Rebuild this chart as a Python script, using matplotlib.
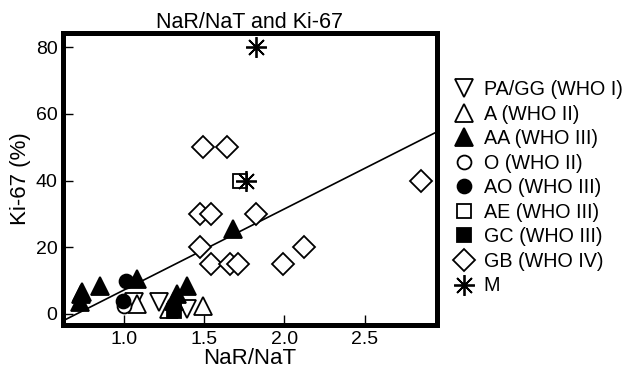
import matplotlib
matplotlib.use("Agg")
import matplotlib.pyplot as plt
import numpy as np

plt.rcParams['font.family'] = ['Liberation Sans', 'DejaVu Sans']

# data: (NaR/NaT, Ki-67 %)
pagg_x = [1.06, 1.22, 1.39]
pagg_y = [3.5, 3.5, 1.5]
a_x = [1.08, 1.28, 1.49]
a_y = [3.0, 1.5, 2.5]
aa_x = [0.725, 0.73, 0.735, 0.85, 1.08, 1.31, 1.33, 1.39, 1.68]
aa_y = [3.5, 6.0, 6.5, 8.5, 10.5, 4.0, 6.0, 8.5, 25.5]
o_x = [1.0]
o_y = [2.5]
ao_x = [1.015, 0.995]
ao_y = [10.0, 4.0]
ae_x = [1.72]
ae_y = [40.0]
gc_x = [1.31]
gc_y = [1.0]
gb_x = [1.49, 1.64, 1.475, 1.54, 1.82, 1.475, 1.54, 1.66, 1.71, 1.99, 2.125, 2.85]
gb_y = [50, 50, 30, 30, 30, 20, 15, 15, 15, 15, 20, 40]
m_x = [1.825, 1.76]
m_y = [80, 40]

# regression line
fit_slope = 24.3
fit_intercept = -17.1

fig = plt.figure(figsize=(6.33, 3.77), dpi=100)
ax = fig.add_axes([0.0995, 0.138, 0.5905, 0.774])

xl = np.array([0.619, 2.95])
ax.plot(xl, fit_slope * xl + fit_intercept, color='black', lw=1.2, zorder=1)

kw = dict(ls='none', color='black', mec='black', mew=1.3)
ax.plot(pagg_x, pagg_y, marker='v', ms=13, mfc='white', label='PA/GG (WHO I)', **kw)
ax.plot(a_x, a_y, marker='^', ms=13, mfc='white', label='A (WHO II)', **kw)
ax.plot(aa_x, aa_y, marker='^', ms=13, mfc='black', label='AA (WHO III)', **kw)
ax.plot(o_x, o_y, marker='o', ms=10, mfc='white', label='O (WHO II)', **kw)
ax.plot(ao_x, ao_y, marker='o', ms=10, mfc='black', label='AO (WHO III)', **kw)
ax.plot(ae_x, ae_y, marker='s', ms=10, mfc='white', label='AE (WHO III)', **kw)
ax.plot(gc_x, gc_y, marker='s', ms=10, mfc='black', label='GC (WHO III)', **kw)
ax.plot(gb_x, gb_y, marker='D', ms=11, mfc='white', label='GB (WHO IV)', **kw)
ax.plot(m_x, m_y, marker=(8, 2, 0), ms=15, mfc='black', label='M', **kw)

ax.set_xlim(0.619, 2.95)
ax.set_ylim(-3.3, 84.2)
ax.set_xticks([1.0, 1.5, 2.0, 2.5])
ax.set_yticks([0, 20, 40, 60, 80])
ax.tick_params(direction='in', length=7, width=1, labelsize=14, pad=4)
for s in ax.spines.values():
    s.set_linewidth(3.6)

ax.set_title('NaR/NaT and Ki-67', fontsize=15.5, pad=3)
ax.set_xlabel('NaR/NaT', fontsize=16, labelpad=0)
ax.set_ylabel('Ki-67 (%)', fontsize=16, labelpad=3)

ax.legend(loc='center left', bbox_to_anchor=(1.025, 0.47), frameon=False,
          fontsize=14.2, labelspacing=0.28, handlelength=1.0, handletextpad=0.5,
          borderaxespad=0)

plt.savefig('out.png', dpi=100)
